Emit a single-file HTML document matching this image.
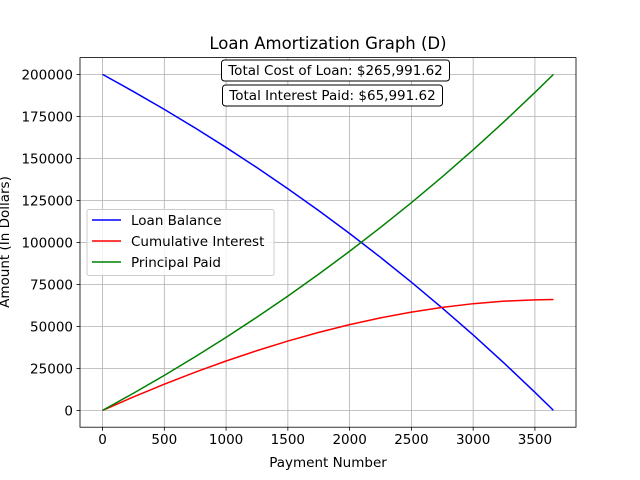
<!DOCTYPE html>
<html><head><meta charset="utf-8"><style>
body{margin:0;background:#fff;}
svg{display:block;font-family:"DejaVu Sans","Liberation Sans",sans-serif;}
</style></head><body>
<svg id="chart" width="640" height="480" viewBox="0 0 640 480">
<rect width="640" height="480" fill="#fff"/>
<g id="grid"></g>
<g id="lines"></g>
<rect x="80" y="57.6" width="496" height="369.6" fill="none" stroke="#000" stroke-width="0.8"/>
<g id="ticks" font-size="13.5"></g>
<text x="328" y="49" text-anchor="middle" font-size="16.5">Loan Amortization Graph (D)</text>
<text x="328" y="467" text-anchor="middle" font-size="13.5">Payment Number</text>
<text transform="translate(9,242) rotate(-90)" text-anchor="middle" font-size="13.5">Amount (In Dollars)</text>
<g>
<rect x="221.5" y="60" width="228" height="21" rx="3" fill="#fff" stroke="#000" stroke-width="1"/>
<text x="335.5" y="75" text-anchor="middle" font-size="13.5">Total Cost of Loan: $265,991.62</text>
</g>
<g>
<rect x="222.5" y="85" width="220" height="21" rx="3" fill="#fff" stroke="#000" stroke-width="1"/>
<text x="332.5" y="100" text-anchor="middle" font-size="13.5">Total Interest Paid: $65,991.62</text>
</g>
<g>
<rect x="87" y="209.5" width="187" height="66" rx="2" fill="#fff" fill-opacity="0.8" stroke="#ccc" stroke-width="1"/>
<g><line x1="92" y1="220" x2="121" y2="220" stroke="blue" stroke-width="1.5"/><text x="131" y="225" font-size="13.5">Loan Balance</text></g>
<g><line x1="92" y1="241" x2="121" y2="241" stroke="red" stroke-width="1.5"/><text x="131" y="246" font-size="13.5">Cumulative Interest</text></g>
<g><line x1="92" y1="262" x2="121" y2="262" stroke="green" stroke-width="1.5"/><text x="131" y="267" font-size="13.5">Principal Paid</text></g>
</g>
</svg>
<script>
const payments = [0,250,500,750,1000,1250,1500,1750,2000,2250,2500,2750,3000,3250,3500,3650];
const balance = [200000,189793,179159,168076,156528,144495,131966,118900,105291,91108,76340,60936,44896,28179,10760,0];
const interest = [0,8012,15596,22732,29402,35588,41277,46430,51039,55075,58525,61340,63518,65020,65819,65991.62];
const principal = [0,10207,20841,31924,43472,55505,68034,81100,94709,108892,123660,139064,155104,171821,189240,200000];
const xTicks = [0,500,1000,1500,2000,2500,3000,3500];
const yTicks = [0,25000,50000,75000,100000,125000,150000,175000,200000];

const NS="http://www.w3.org/2000/svg";
const X0=80,X1=576,Y0=427.2,Y1=57.6;
const xmin=-182.5,xmax=3832.5,ymin=-10000,ymax=210000;
const sx=v=>X0+(v-xmin)/(xmax-xmin)*(X1-X0);
const sy=v=>Y0-(v-ymin)/(ymax-ymin)*(Y0-Y1);
const grid=document.getElementById('grid'),ticks=document.getElementById('ticks'),lines=document.getElementById('lines');
function mk(tag,attrs,parent){const e=document.createElementNS(NS,tag);for(const k in attrs)e.setAttribute(k,attrs[k]);parent.appendChild(e);return e;}
xTicks.forEach(t=>{
 const x=sx(t);
 const g=mk('line',{x1:x,x2:x,y1:Y1,y2:Y0,stroke:'#b0b0b0','stroke-width':0.8},grid);
 
 
 mk('line',{x1:x,x2:x,y1:Y0,y2:Y0+3.5,stroke:'#000','stroke-width':0.8},ticks);
 const tx=mk('text',{x:x,y:Y0+17,'text-anchor':'middle'},ticks);
 tx.textContent=t;
 
 
});
yTicks.forEach(t=>{
 const y=sy(t);
 const g=mk('line',{x1:X0,x2:X1,y1:y,y2:y,stroke:'#b0b0b0','stroke-width':0.8},grid);
 
 
 mk('line',{x1:X0-3.5,x2:X0,y1:y,y2:y,stroke:'#000','stroke-width':0.8},ticks);
 const tx=mk('text',{x:X0-7,y:y+5,'text-anchor':'end'},ticks);
 tx.textContent=t;
 
 
});
function series(vals,color,name){
 const pts=payments.map((p,i)=>sx(p).toFixed(2)+','+sy(vals[i]).toFixed(2)).join(' ');
 const pl=mk('polyline',{points:pts,fill:'none',stroke:color,'stroke-width':1.5,'stroke-linejoin':'round'},lines);
 
 
}
series(balance,'blue','loan-balance-line');
series(interest,'red','cumulative-interest-line');
series(principal,'green','principal-paid-line');
</script>
</body></html>
